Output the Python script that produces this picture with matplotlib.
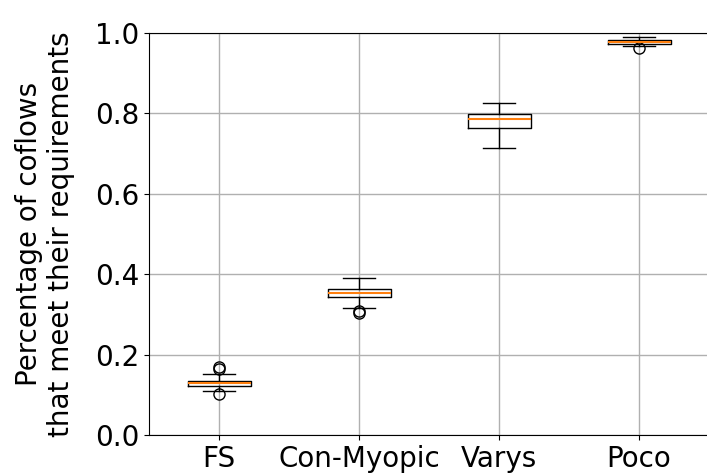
import matplotlib
matplotlib.use('Agg')
import matplotlib.pyplot as plt

labels = ['FS', 'Con-Myopic', 'Varys', 'Poco']
med = [0.129, 0.354, 0.787, 0.977]
q1 = [0.122, 0.344, 0.763, 0.972]
q3 = [0.135, 0.362, 0.798, 0.982]
whislo = [0.109, 0.317, 0.713, 0.968]
whishi = [0.151, 0.391, 0.825, 0.990]
fliers = [[0.101, 0.164, 0.170], [0.303, 0.309], [], [0.962]]

stats = []
for i in range(len(labels)):
    stats.append({'label': labels[i], 'med': med[i], 'q1': q1[i], 'q3': q3[i],
                  'whislo': whislo[i], 'whishi': whishi[i], 'fliers': fliers[i]})

fig = plt.figure(figsize=(7.07, 4.76), dpi=100)
ax = fig.add_axes([149 / 707, 41 / 476, 560 / 707, 402 / 476])
ax.bxp(stats, widths=0.45,
       flierprops=dict(marker='o', markerfacecolor='none', markeredgecolor='black', markersize=8),
       medianprops=dict(color='#ff7f0e', linewidth=1.5))
ax.set_xlim(0.5, 4.5)
ax.set_ylim(0.0, 1.0)
ax.set_yticks([0.0, 0.2, 0.4, 0.6, 0.8, 1.0])
ax.grid(True, color='#b0b0b0', linewidth=1)
ax.set_axisbelow(True)
ax.tick_params(labelsize=20)
ax.set_ylabel('Percentage of coflows\nthat meet their requirements', fontsize=20, labelpad=14)
plt.savefig('out.png', dpi=100)
